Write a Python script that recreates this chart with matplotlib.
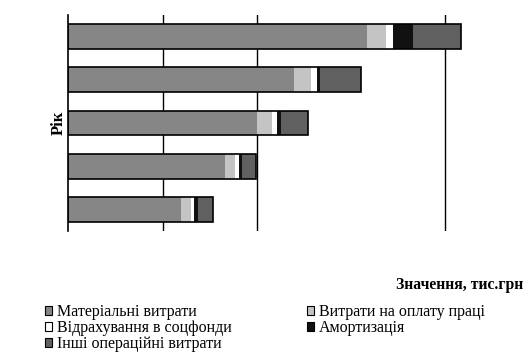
import matplotlib
matplotlib.use("Agg")
import matplotlib.pyplot as plt
from matplotlib.patches import Patch
import numpy as np

plt.rcParams['font.family'] = ['Liberation Serif', 'DejaVu Serif']

# Categories (bottom to top); year labels are not shown in the original
years = ['1', '2', '3', '4', '5']
material = [1193, 1664, 2003, 2399, 3171]
labor = [106, 103, 156, 173, 202]
social = [39, 42, 57, 64, 78]
amort = [39, 39, 42, 39, 208]
other = [163, 149, 287, 436, 505]

series = [
    ('Матеріальні витрати', material, '#868686'),
    ('Витрати на оплату праці', labor, '#c4c4c4'),
    ('Відрахування в соцфонди', social, '#ffffff'),
    ('Амортизація', amort, '#111111'),
    ('Інші операційні витрати', other, '#606060'),
]
grid_values = [1000, 2000, 4000]

fig = plt.figure(figsize=(5.30, 3.58), dpi=100)
ax = fig.add_axes([68.3/530, 1 - 231/358, (520 - 68.3)/530, 216/358])

y = np.arange(len(years))
left = np.zeros(len(years))
h = 0.57
for name, vals, col in series:
    ax.barh(y, vals, left=left, height=h, color=col, edgecolor='none', zorder=2, label=name)
    left = left + np.array(vals)
ax.barh(y, left, height=h, fill=False, edgecolor='black', linewidth=1.2, zorder=3)

for g in grid_values:
    ax.axvline(g, color='black', linewidth=1.0, zorder=1)

ax.set_xlim(0, (520 - 68.3) / 94.2 * 1000)
ax.set_ylim(-0.5, len(years) - 0.5)
ax.set_xticks([])
ax.set_yticks([])
for s in ['top', 'right', 'bottom']:
    ax.spines[s].set_visible(False)
ax.spines['left'].set_linewidth(1.2)

ax.set_ylabel('Рік', fontsize=12, fontweight='bold', labelpad=1)

fig.text(523/530, 1 - 285/358, 'Значення, тис.грн', ha='right', va='center',
         fontsize=11.3, fontweight='bold')

handles = [Patch(facecolor=c, edgecolor='black', linewidth=0.8) for _, _, c in series]
labels = [n for n, _, _ in series]
order = [0, 2, 4, 1, 3]
leg = fig.legend([handles[i] for i in order], [labels[i] for i in order],
                 ncol=2, loc='upper left', bbox_to_anchor=(45/530, 1 - 304/358),
                 frameon=False, fontsize=11.5, handlelength=0.45, handleheight=0.45,
                 handletextpad=0.3, labelspacing=0.0, columnspacing=4.7,
                 borderaxespad=0, borderpad=0)

fig.savefig('out.png', dpi=100)
